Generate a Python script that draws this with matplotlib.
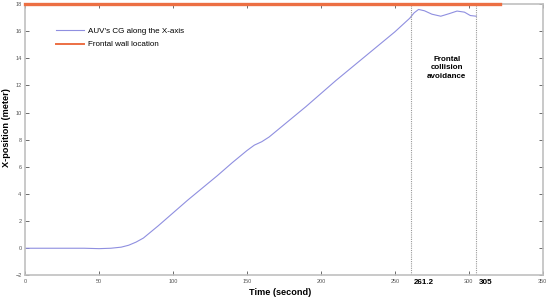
import matplotlib
matplotlib.use("Agg")
from matplotlib import pyplot as plt
import numpy as np

plt.rcParams['font.family'] = ['Liberation Sans', 'DejaVu Sans']

# AUV CG x-position over time
time_s = [0, 20, 40, 50, 58, 65, 70, 75, 80, 90, 100, 110, 120, 130, 140, 150,
          155, 160, 165, 170, 180, 190, 200, 210, 220, 230, 240, 250, 260,
          263, 266, 270, 275, 281, 287, 292, 297, 301, 305]
x_pos = [0, 0, 0, -0.03, 0.0, 0.08, 0.22, 0.45, 0.75, 1.65, 2.6, 3.55, 4.45, 5.35,
         6.3, 7.2, 7.6, 7.85, 8.2, 8.65, 9.55, 10.45, 11.4, 12.35, 13.25, 14.15,
         15.05, 15.95, 16.95, 17.35, 17.6, 17.5, 17.25, 17.1, 17.3, 17.48, 17.4,
         17.15, 17.1]

wall_t = [0, 321]
wall_x = [18, 18]

event_t = [261.2, 305]
event_lbl = ["261.2", "305"]

fig = plt.figure(figsize=(5.5, 2.99), dpi=100)
ax = fig.add_axes([0.0455, 0.079, 0.9415, 0.9076])

ax.plot(time_s, x_pos, color="#8f8fe0", lw=0.8, label="AUV's CG along the X-axis")
ax.plot(wall_t, wall_x, color="#ec6f43", lw=2.4, label="Frontal wall location", clip_on=False, zorder=5)

for t in event_t:
    ax.axvline(t, color="#999999", ls=(0, (1, 1)), lw=0.8)

ax.set_xlim(0, 350)
ax.set_ylim(-2, 18)
ax.set_xticks(np.arange(0, 351, 50))
ax.set_yticks(np.arange(-2, 19, 2))
ax.tick_params(direction="in", top=True, right=True, labelsize=4, colors="#555555",
               length=3, width=0.6, pad=2.5)
for s in ax.spines.values():
    s.set_color("#c0c0c0")
    s.set_linewidth(1.2)

for t, lbl in zip(event_t, event_lbl):
    ax.text(t + 1.5, -2.3, lbl, ha="left", va="top", fontsize=5.8, fontweight="bold")

ax.text(285, 13.3, "Frontal\ncollision\navoidance", ha="center", va="center",
        fontsize=5.8, fontweight="bold", linespacing=1.35)

ax.set_xlabel("Time (second)", fontsize=6.6, fontweight="bold")
ax.set_ylabel("X-position (meter)", fontsize=6.6, fontweight="bold")
ax.xaxis.set_label_coords(0.492, -0.047)
ax.yaxis.set_label_coords(-0.027, 0.543)

leg = ax.legend(loc="upper left", bbox_to_anchor=(0.045, 0.94), frameon=False, fontsize=5.8,
                handlelength=3.5, handletextpad=0.5, labelspacing=0.7)
leg.get_lines()[1].set_linewidth(1.4)

plt.savefig("out.png", dpi=100)
